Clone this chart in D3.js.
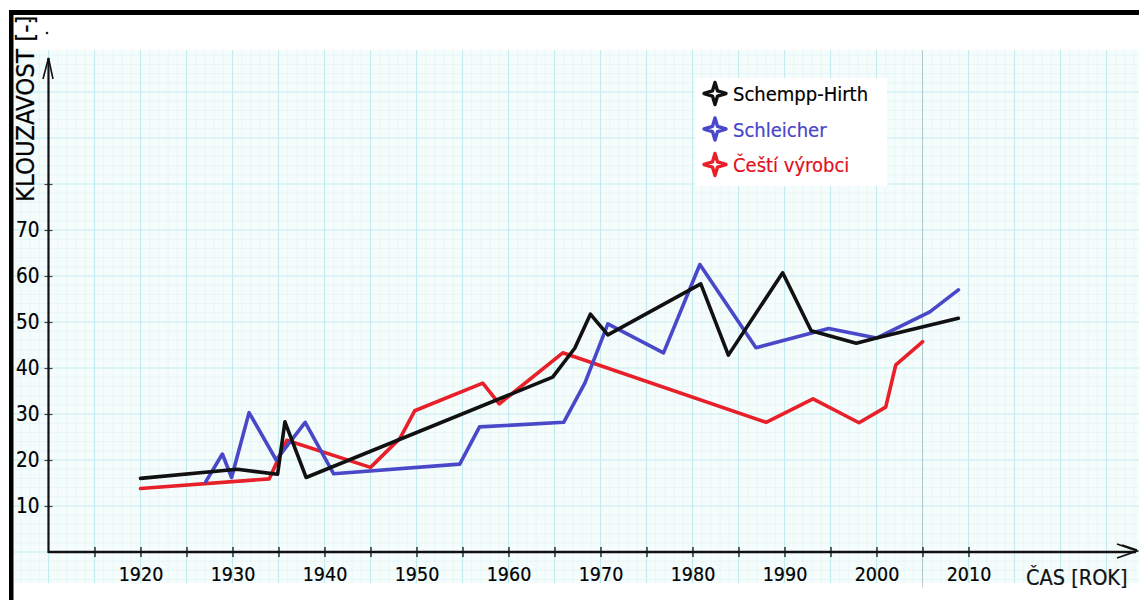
<!DOCTYPE html>
<html>
<head>
<meta charset="utf-8">
<script src="https://cdn.jsdelivr.net/npm/d3@7"></script>
<style>
  html, body { margin: 0; padding: 0; background: #fff; }
  svg { display: block; font-family: "DejaVu Sans Condensed", "DejaVu Sans", sans-serif; }
  .ink { stroke-width: 0.2px; paint-order: stroke; }
</style>
</head>
<body>
<svg id="chart" width="1139" height="600"></svg>
<script>
// values
const schemppYears = [1920, 1930.5, 1934.9, 1935.7, 1938, 1964.8, 1967.2, 1968.9, 1970.8, 1980.9, 1983.9, 1989.8, 1992.9, 1997.8, 2000, 2008.9]
const schemppValues = [16.0, 18.0, 16.9, 28.3, 16.2, 38.0, 44.3, 51.7, 47.2, 58.3, 42.8, 60.7, 48.1, 45.4, 46.5, 50.8]

const schleicherYears = [1927.1, 1928.9, 1929.9, 1931.8, 1934.75, 1937.9, 1941, 1954.7, 1956.85, 1966, 1968.3, 1970.8, 1976.85, 1980.8, 1986.9, 1994.8, 2000, 2005.8, 2008.9]
const schleicherValues = [15.3, 21.3, 16.2, 30.3, 20.0, 28.2, 17.0, 19.1, 27.2, 28.2, 36.7, 49.6, 43.3, 62.5, 44.4, 48.6, 46.5, 52.2, 57.0]

const cestiYears = [1920, 1934, 1935.9, 1945, 1948.2, 1949.8, 1957.2, 1959, 1965.9, 1988, 1993.1, 1998.1, 2001, 2002.1, 2005]
const cestiValues = [13.8, 15.9, 24.3, 18.4, 24.7, 30.7, 36.7, 32.2, 43.3, 28.2, 33.3, 28.1, 31.5, 40.7, 45.7]

const seriesNames = ["Schempp-Hirth", "Schleicher", "Čeští výrobci"]
const seriesColors = ["#111111", "#4848c8", "#e8202a"]
const textColors = ["#000000", "#4545c8", "#e01020"]

const xTickYears = [1915, 1920, 1925, 1930, 1935, 1940, 1945, 1950, 1955, 1960, 1965, 1970, 1975, 1980, 1985, 1990, 1995, 2000, 2005, 2010]
const yTickValues = [10, 20, 30, 40, 50, 60, 70, 80]
const yLabelValues = [10, 20, 30, 40, 50, 60, 70]

const svg = d3.select("#chart")

// scales: one paper square (46px) = 5 years / 10 units
const x = d3.scaleLinear().domain([1910, 2010]).range([48.5, 968.5])
const y = d3.scaleLinear().domain([0, 70]).range([552, 230])

// graph paper
const paper = {x: 14, y: 50, w: 1125, h: 533}
svg.append("clipPath").attr("id", "paperclip")
   .append("rect").attr("x", paper.x).attr("y", paper.y).attr("width", paper.w).attr("height", paper.h)

const grid = svg.append("g").attr("clip-path", "url(#paperclip)")
grid.append("rect").attr("x", paper.x).attr("y", paper.y).attr("width", paper.w).attr("height", paper.h)
    .attr("fill", "#f5fcfc")

const gridYears = d3.range(1906, 2030)
const gridValues = d3.range(-6, 110, 2)

grid.selectAll("line.vminor").data(gridYears.filter(d => d % 5 !== 0)).enter().append("line")
    .attr("x1", d => x(d)).attr("x2", d => x(d)).attr("y1", paper.y).attr("y2", paper.y + paper.h)
    .attr("stroke", "#e3f5f6").attr("stroke-width", 0.7)
grid.selectAll("line.hminor").data(gridValues.filter(d => d % 10 !== 0)).enter().append("line")
    .attr("y1", d => y(d)).attr("y2", d => y(d)).attr("x1", paper.x).attr("x2", paper.x + paper.w)
    .attr("stroke", "#e3f5f6").attr("stroke-width", 0.7)
grid.selectAll("line.vmajor").data(gridYears.filter(d => d % 5 === 0)).enter().append("line")
    .attr("x1", d => x(d)).attr("x2", d => x(d)).attr("y1", paper.y).attr("y2", paper.y + paper.h)
    .attr("stroke", "#c4ebee").attr("stroke-width", 1.1)
grid.selectAll("line.hmajor").data(gridValues.filter(d => d % 10 === 0)).enter().append("line")
    .attr("y1", d => y(d)).attr("y2", d => y(d)).attr("x1", paper.x).attr("x2", paper.x + paper.w)
    .attr("stroke", "#c4ebee").attr("stroke-width", 1.1)

// faint pencil line left on the paper
svg.append("line").attr("x1", x(2005)).attr("x2", x(2005)).attr("y1", 50).attr("y2", 588)
   .attr("stroke", "#8a8a8a").attr("stroke-opacity", 0.35).attr("stroke-width", 1)

// scanned frame
svg.append("rect").attr("x", 9).attr("y", 10).attr("width", 1130).attr("height", 5).attr("fill", "#000")
svg.append("rect").attr("x", 9).attr("y", 10).attr("width", 4.5).attr("height", 590).attr("fill", "#000")
svg.append("circle").attr("cx", 30).attr("cy", 21).attr("r", 1.3).attr("fill", "#222")
svg.append("circle").attr("cx", 47).attr("cy", 33).attr("r", 1.3).attr("fill", "#222")

// data lines
const line = d3.line().x(d => x(d[0])).y(d => y(d[1]))
const series = [
    d3.zip(schemppYears, schemppValues),
    d3.zip(schleicherYears, schleicherValues),
    d3.zip(cestiYears, cestiValues)
]
// draw red first, black on top like the scan
;[2, 1, 0].forEach(i => {
    svg.append("path").datum(series[i])
       .attr("d", line)
       .attr("fill", "none")
       .attr("stroke", seriesColors[i])
       .attr("stroke-width", 3.6)
       .attr("stroke-linejoin", "round")
       .attr("stroke-linecap", "round")
})

// x axis
const xAxis = d3.axisBottom(x).tickValues(xTickYears).tickSize(5).tickSizeOuter(0)
    .tickFormat(d => d % 10 === 0 ? d : "")
const gx = svg.append("g").attr("transform", `translate(0, ${y(0)})`).call(xAxis)
gx.select(".domain").remove()
gx.selectAll(".tick line").attr("y1", -5).attr("stroke", "#222").attr("stroke-width", 1.4)
gx.selectAll(".tick text").attr("y", 15).attr("dy", "0.71em")
  .attr("font-size", 19.5).attr("fill", "#000").attr("stroke", "#000").attr("class", "ink")
  .style("font-family", '"DejaVu Sans Condensed", "DejaVu Sans", sans-serif')

svg.append("line").attr("x1", x(1910)).attr("x2", 1136).attr("y1", y(0)).attr("y2", y(0))
   .attr("stroke", "#111").attr("stroke-width", 2.6)
svg.append("path").attr("d", `M1117,${y(0) - 8} L1137,${y(0) - 1} L1117,${y(0) + 6} M1122,${y(0) - 7} L1137,${y(0) - 2}`)
   .attr("fill", "none").attr("stroke", "#111").attr("stroke-width", 1.8)

// y axis
const yAxis = d3.axisLeft(y).tickValues(yTickValues).tickSize(4).tickSizeOuter(0)
    .tickFormat(d => yLabelValues.includes(d) ? d : "")
const gy = svg.append("g").attr("transform", `translate(${x(1910)}, 0)`).call(yAxis)
gy.select(".domain").remove()
gy.selectAll(".tick line").attr("x2", 4).attr("x1", -4).attr("stroke", "#444").attr("stroke-width", 1.2)
gy.selectAll(".tick text").attr("x", -9).attr("font-size", 20.5).attr("fill", "#000").attr("stroke", "#000").attr("class", "ink")
  .style("font-family", '"DejaVu Sans Condensed", "DejaVu Sans", sans-serif')

svg.append("line").attr("x1", x(1910)).attr("x2", x(1910)).attr("y1", y(0) + 1).attr("y2", 58)
   .attr("stroke", "#111").attr("stroke-width", 2.2)
svg.append("path").attr("d", `M${x(1910) - 5.5},79 L${x(1910)},58 L${x(1910) + 4.5},79`)
   .attr("fill", "none").attr("stroke", "#111").attr("stroke-width", 1.6)

// axis titles
svg.append("text").attr("transform", "translate(33.5, 202) rotate(-90)")
   .attr("font-size", 25.5).attr("fill", "#000").attr("stroke", "#000").attr("class", "ink")
   .text("KLOUZAVOST [-]")
svg.append("text").attr("x", 1026).attr("y", 585)
   .attr("font-size", 21.5).attr("fill", "#111").attr("stroke", "#111").attr("class", "ink")
   .text("ČAS [ROK]")

// legend
const legend = svg.append("g")
legend.append("rect").attr("x", 695).attr("y", 78).attr("width", 192).attr("height", 108).attr("fill", "#fff")

const star = d3.lineRadial().curve(d3.curveLinearClosed)
const starPoints = d3.range(8).map(k => [k * Math.PI / 4, k % 2 === 0 ? 11 : 3.6])

seriesNames.forEach((name, i) => {
    const cy = 93.5 + i * 35.5
    legend.append("path").attr("d", star(starPoints))
          .attr("transform", `translate(715, ${cy})`)
          .attr("fill", "#fff").attr("stroke", seriesColors[i]).attr("stroke-width", 3.4)
          .attr("stroke-linejoin", "round")
    legend.append("text").attr("x", 733).attr("y", cy + 7.5)
          .attr("font-size", 20).attr("fill", textColors[i])
          .attr("stroke", textColors[i]).attr("class", "ink").text(name)
})
</script>
</body>
</html>
